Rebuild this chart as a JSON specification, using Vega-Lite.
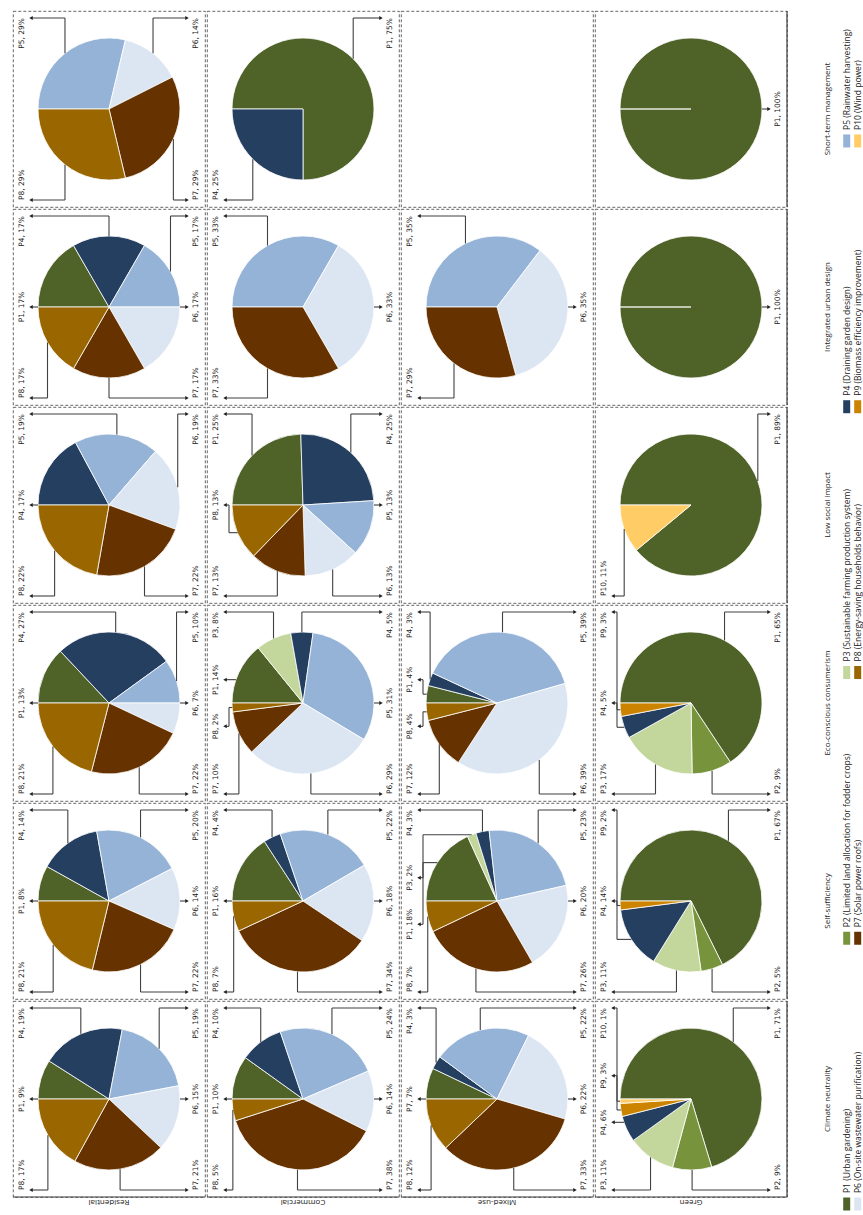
{
  "$schema": "https://vega.github.io/schema/vega-lite/v6.json",
  "padding": {"left": 12, "top": 10, "right": 0, "bottom": 4},
  "background": "white",
  "config": {
    "view": {"stroke": "#404040", "strokeDash": [3, 2], "strokeWidth": 0.8},
    "text": {"font": "DejaVu Sans"}
  },
  "datasets": {
    "shares": [
      {"use": "Residential", "goal": "Climate neutrality", "p": "P1", "pct": 9, "label": "P1, 9%"},
      {"use": "Residential", "goal": "Climate neutrality", "p": "P4", "pct": 19, "label": "P4, 19%"},
      {"use": "Residential", "goal": "Climate neutrality", "p": "P5", "pct": 19, "label": "P5, 19%"},
      {"use": "Residential", "goal": "Climate neutrality", "p": "P6", "pct": 15, "label": "P6, 15%"},
      {"use": "Residential", "goal": "Climate neutrality", "p": "P7", "pct": 21, "label": "P7, 21%"},
      {"use": "Residential", "goal": "Climate neutrality", "p": "P8", "pct": 17, "label": "P8, 17%"},
      {"use": "Residential", "goal": "Self-sufficiency", "p": "P1", "pct": 8, "label": "P1, 8%"},
      {"use": "Residential", "goal": "Self-sufficiency", "p": "P4", "pct": 14, "label": "P4, 14%"},
      {"use": "Residential", "goal": "Self-sufficiency", "p": "P5", "pct": 20, "label": "P5, 20%"},
      {"use": "Residential", "goal": "Self-sufficiency", "p": "P6", "pct": 14, "label": "P6, 14%"},
      {"use": "Residential", "goal": "Self-sufficiency", "p": "P7", "pct": 22, "label": "P7, 22%"},
      {"use": "Residential", "goal": "Self-sufficiency", "p": "P8", "pct": 21, "label": "P8, 21%"},
      {"use": "Residential", "goal": "Eco-conscious consumerism", "p": "P1", "pct": 13, "label": "P1, 13%"},
      {"use": "Residential", "goal": "Eco-conscious consumerism", "p": "P4", "pct": 27, "label": "P4, 27%"},
      {"use": "Residential", "goal": "Eco-conscious consumerism", "p": "P5", "pct": 10, "label": "P5, 10%"},
      {"use": "Residential", "goal": "Eco-conscious consumerism", "p": "P6", "pct": 7, "label": "P6, 7%"},
      {"use": "Residential", "goal": "Eco-conscious consumerism", "p": "P7", "pct": 22, "label": "P7, 22%"},
      {"use": "Residential", "goal": "Eco-conscious consumerism", "p": "P8", "pct": 21, "label": "P8, 21%"},
      {"use": "Residential", "goal": "Low social impact", "p": "P4", "pct": 17, "label": "P4, 17%"},
      {"use": "Residential", "goal": "Low social impact", "p": "P5", "pct": 19, "label": "P5, 19%"},
      {"use": "Residential", "goal": "Low social impact", "p": "P6", "pct": 19, "label": "P6, 19%"},
      {"use": "Residential", "goal": "Low social impact", "p": "P7", "pct": 22, "label": "P7, 22%"},
      {"use": "Residential", "goal": "Low social impact", "p": "P8", "pct": 22, "label": "P8, 22%"},
      {"use": "Residential", "goal": "Integrated urban design", "p": "P1", "pct": 17, "label": "P1, 17%"},
      {"use": "Residential", "goal": "Integrated urban design", "p": "P4", "pct": 17, "label": "P4, 17%"},
      {"use": "Residential", "goal": "Integrated urban design", "p": "P5", "pct": 17, "label": "P5, 17%"},
      {"use": "Residential", "goal": "Integrated urban design", "p": "P6", "pct": 17, "label": "P6, 17%"},
      {"use": "Residential", "goal": "Integrated urban design", "p": "P7", "pct": 17, "label": "P7, 17%"},
      {"use": "Residential", "goal": "Integrated urban design", "p": "P8", "pct": 17, "label": "P8, 17%"},
      {"use": "Residential", "goal": "Short-term management", "p": "P5", "pct": 29, "label": "P5, 29%"},
      {"use": "Residential", "goal": "Short-term management", "p": "P6", "pct": 14, "label": "P6, 14%"},
      {"use": "Residential", "goal": "Short-term management", "p": "P7", "pct": 29, "label": "P7, 29%"},
      {"use": "Residential", "goal": "Short-term management", "p": "P8", "pct": 29, "label": "P8, 29%"},
      {"use": "Commercial", "goal": "Climate neutrality", "p": "P1", "pct": 10, "label": "P1, 10%"},
      {"use": "Commercial", "goal": "Climate neutrality", "p": "P4", "pct": 10, "label": "P4, 10%"},
      {"use": "Commercial", "goal": "Climate neutrality", "p": "P5", "pct": 24, "label": "P5, 24%"},
      {"use": "Commercial", "goal": "Climate neutrality", "p": "P6", "pct": 14, "label": "P6, 14%"},
      {"use": "Commercial", "goal": "Climate neutrality", "p": "P7", "pct": 38, "label": "P7, 38%"},
      {"use": "Commercial", "goal": "Climate neutrality", "p": "P8", "pct": 5, "label": "P8, 5%"},
      {"use": "Commercial", "goal": "Self-sufficiency", "p": "P1", "pct": 16, "label": "P1, 16%"},
      {"use": "Commercial", "goal": "Self-sufficiency", "p": "P4", "pct": 4, "label": "P4, 4%"},
      {"use": "Commercial", "goal": "Self-sufficiency", "p": "P5", "pct": 22, "label": "P5, 22%"},
      {"use": "Commercial", "goal": "Self-sufficiency", "p": "P6", "pct": 18, "label": "P6, 18%"},
      {"use": "Commercial", "goal": "Self-sufficiency", "p": "P7", "pct": 34, "label": "P7, 34%"},
      {"use": "Commercial", "goal": "Self-sufficiency", "p": "P8", "pct": 7, "label": "P8, 7%"},
      {"use": "Commercial", "goal": "Eco-conscious consumerism", "p": "P1", "pct": 14, "label": "P1, 14%"},
      {"use": "Commercial", "goal": "Eco-conscious consumerism", "p": "P3", "pct": 8, "label": "P3, 8%"},
      {"use": "Commercial", "goal": "Eco-conscious consumerism", "p": "P4", "pct": 5, "label": "P4, 5%"},
      {"use": "Commercial", "goal": "Eco-conscious consumerism", "p": "P5", "pct": 31, "label": "P5, 31%"},
      {"use": "Commercial", "goal": "Eco-conscious consumerism", "p": "P6", "pct": 29, "label": "P6, 29%"},
      {"use": "Commercial", "goal": "Eco-conscious consumerism", "p": "P7", "pct": 10, "label": "P7, 10%"},
      {"use": "Commercial", "goal": "Eco-conscious consumerism", "p": "P8", "pct": 2, "label": "P8, 2%"},
      {"use": "Commercial", "goal": "Low social impact", "p": "P1", "pct": 25, "label": "P1, 25%"},
      {"use": "Commercial", "goal": "Low social impact", "p": "P4", "pct": 25, "label": "P4, 25%"},
      {"use": "Commercial", "goal": "Low social impact", "p": "P5", "pct": 13, "label": "P5, 13%"},
      {"use": "Commercial", "goal": "Low social impact", "p": "P6", "pct": 13, "label": "P6, 13%"},
      {"use": "Commercial", "goal": "Low social impact", "p": "P7", "pct": 13, "label": "P7, 13%"},
      {"use": "Commercial", "goal": "Low social impact", "p": "P8", "pct": 13, "label": "P8, 13%"},
      {"use": "Commercial", "goal": "Integrated urban design", "p": "P5", "pct": 33, "label": "P5, 33%"},
      {"use": "Commercial", "goal": "Integrated urban design", "p": "P6", "pct": 33, "label": "P6, 33%"},
      {"use": "Commercial", "goal": "Integrated urban design", "p": "P7", "pct": 33, "label": "P7, 33%"},
      {"use": "Commercial", "goal": "Short-term management", "p": "P1", "pct": 75, "label": "P1, 75%"},
      {"use": "Commercial", "goal": "Short-term management", "p": "P4", "pct": 25, "label": "P4, 25%"},
      {"use": "Mixed-use", "goal": "Climate neutrality", "p": "P1", "pct": 7, "label": "P7, 7%"},
      {"use": "Mixed-use", "goal": "Climate neutrality", "p": "P4", "pct": 3, "label": "P4, 3%"},
      {"use": "Mixed-use", "goal": "Climate neutrality", "p": "P5", "pct": 22, "label": "P5, 22%"},
      {"use": "Mixed-use", "goal": "Climate neutrality", "p": "P6", "pct": 22, "label": "P6, 22%"},
      {"use": "Mixed-use", "goal": "Climate neutrality", "p": "P7", "pct": 33, "label": "P7, 33%"},
      {"use": "Mixed-use", "goal": "Climate neutrality", "p": "P8", "pct": 12, "label": "P8, 12%"},
      {"use": "Mixed-use", "goal": "Self-sufficiency", "p": "P1", "pct": 18, "label": "P1, 18%"},
      {"use": "Mixed-use", "goal": "Self-sufficiency", "p": "P3", "pct": 2, "label": "P3, 2%"},
      {"use": "Mixed-use", "goal": "Self-sufficiency", "p": "P4", "pct": 3, "label": "P4, 3%"},
      {"use": "Mixed-use", "goal": "Self-sufficiency", "p": "P5", "pct": 23, "label": "P5, 23%"},
      {"use": "Mixed-use", "goal": "Self-sufficiency", "p": "P6", "pct": 20, "label": "P6, 20%"},
      {"use": "Mixed-use", "goal": "Self-sufficiency", "p": "P7", "pct": 26, "label": "P7, 26%"},
      {"use": "Mixed-use", "goal": "Self-sufficiency", "p": "P8", "pct": 7, "label": "P8, 7%"},
      {"use": "Mixed-use", "goal": "Eco-conscious consumerism", "p": "P1", "pct": 4, "label": "P1, 4%"},
      {"use": "Mixed-use", "goal": "Eco-conscious consumerism", "p": "P4", "pct": 3, "label": "P4, 3%"},
      {"use": "Mixed-use", "goal": "Eco-conscious consumerism", "p": "P5", "pct": 39, "label": "P5, 39%"},
      {"use": "Mixed-use", "goal": "Eco-conscious consumerism", "p": "P6", "pct": 39, "label": "P6, 39%"},
      {"use": "Mixed-use", "goal": "Eco-conscious consumerism", "p": "P7", "pct": 12, "label": "P7, 12%"},
      {"use": "Mixed-use", "goal": "Eco-conscious consumerism", "p": "P8", "pct": 4, "label": "P8, 4%"},
      {"use": "Mixed-use", "goal": "Low social impact", "p": null, "pct": null, "label": null},
      {"use": "Mixed-use", "goal": "Integrated urban design", "p": "P5", "pct": 35, "label": "P5, 35%"},
      {"use": "Mixed-use", "goal": "Integrated urban design", "p": "P6", "pct": 35, "label": "P6, 35%"},
      {"use": "Mixed-use", "goal": "Integrated urban design", "p": "P7", "pct": 29, "label": "P7, 29%"},
      {"use": "Mixed-use", "goal": "Short-term management", "p": null, "pct": null, "label": null},
      {"use": "Green", "goal": "Climate neutrality", "p": "P1", "pct": 71, "label": "P1, 71%"},
      {"use": "Green", "goal": "Climate neutrality", "p": "P2", "pct": 9, "label": "P2, 9%"},
      {"use": "Green", "goal": "Climate neutrality", "p": "P3", "pct": 11, "label": "P3, 11%"},
      {"use": "Green", "goal": "Climate neutrality", "p": "P4", "pct": 6, "label": "P4, 6%"},
      {"use": "Green", "goal": "Climate neutrality", "p": "P9", "pct": 3, "label": "P9, 3%"},
      {"use": "Green", "goal": "Climate neutrality", "p": "P10", "pct": 1, "label": "P10, 1%"},
      {"use": "Green", "goal": "Self-sufficiency", "p": "P1", "pct": 67, "label": "P1, 67%"},
      {"use": "Green", "goal": "Self-sufficiency", "p": "P2", "pct": 5, "label": "P2, 5%"},
      {"use": "Green", "goal": "Self-sufficiency", "p": "P3", "pct": 11, "label": "P3, 11%"},
      {"use": "Green", "goal": "Self-sufficiency", "p": "P4", "pct": 14, "label": "P4, 14%"},
      {"use": "Green", "goal": "Self-sufficiency", "p": "P9", "pct": 2, "label": "P9, 2%"},
      {"use": "Green", "goal": "Eco-conscious consumerism", "p": "P1", "pct": 65, "label": "P1, 65%"},
      {"use": "Green", "goal": "Eco-conscious consumerism", "p": "P2", "pct": 9, "label": "P2, 9%"},
      {"use": "Green", "goal": "Eco-conscious consumerism", "p": "P3", "pct": 17, "label": "P3, 17%"},
      {"use": "Green", "goal": "Eco-conscious consumerism", "p": "P4", "pct": 5, "label": "P4, 5%"},
      {"use": "Green", "goal": "Eco-conscious consumerism", "p": "P9", "pct": 3, "label": "P9, 3%"},
      {"use": "Green", "goal": "Low social impact", "p": "P1", "pct": 89, "label": "P1, 89%"},
      {"use": "Green", "goal": "Low social impact", "p": "P10", "pct": 11, "label": "P10, 11%"},
      {"use": "Green", "goal": "Integrated urban design", "p": "P1", "pct": 100, "label": "P1, 100%"},
      {"use": "Green", "goal": "Short-term management", "p": "P1", "pct": 100, "label": "P1, 100%"}
    ],
    "legend": [
      {"p": "P1", "name": "P1 (Urban gardening)"},
      {"p": "P2", "name": "P2 (Limited land allocation for fodder crops)"},
      {"p": "P3", "name": "P3 (Sustainable farming production system)"},
      {"p": "P4", "name": "P4 (Draining garden design)"},
      {"p": "P5", "name": "P5 (Rainwater harvesting)"},
      {"p": "P6", "name": "P6 (On-site wastewater purification)"},
      {"p": "P7", "name": "P7 (Solar power roofs)"},
      {"p": "P8", "name": "P8 (Energy-saving households behavior)"},
      {"p": "P9", "name": "P9 (Biomass efficiency improvement)"},
      {"p": "P10", "name": "P10 (Wind power)"}
    ]
  },
  "spacing": 7,
  "hconcat": [
    {
      "data": {"name": "shares"},
      "transform": [
        {"calculate": "toNumber(substring(datum.p, 1))", "as": "pn"},
        {"joinaggregate": [{"op": "sum", "field": "pct", "as": "tot"}, {"op": "count", "as": "nn"}], "groupby": ["use", "goal"]},
        {"window": [{"op": "sum", "field": "pct", "as": "cum"}, {"op": "row_number", "as": "rn"}], "sort": [{"field": "pn"}], "groupby": ["use", "goal"], "frame": [null, 0]},
        {"calculate": "(datum.cum - datum.pct) / datum.tot", "as": "f0"},
        {"calculate": "datum.cum / datum.tot", "as": "f1"},
        {"calculate": "PI * (datum.f0 + datum.f1)", "as": "phi"},
        {"calculate": "cos(datum.phi - PI / 30)", "as": "s"},
        {"window": [{"op": "row_number", "as": "srank"}], "sort": [{"field": "s", "order": "descending"}], "groupby": ["use", "goal"]},
        {"calculate": "(datum.s > 0.4 || (datum.srank <= ceil(datum.nn / 2) && datum.s >= -0.4)) ? -1 : 1", "as": "side"},
        {"calculate": "sin(datum.phi)", "as": "sn"},
        {"window": [{"op": "row_number", "as": "k"}], "sort": [{"field": "sn"}], "groupby": ["use", "goal", "side"]},
        {"joinaggregate": [{"op": "count", "as": "ns"}], "groupby": ["use", "goal", "side"]},
        {"calculate": "datum.ns == 1 ? (abs(datum.sn) < 0.25 ? 0 : (datum.sn > 0 ? 1 : -1)) : -1 + 2 * (datum.k - 1) / (datum.ns - 1)", "as": "pos"},
        {"calculate": "datum.pos == 1 ? 91 : (datum.pos == -1 ? -91 : datum.pos * 70)", "as": "ly"},
        {"calculate": "datum.side * 87", "as": "lx"},
        {"calculate": "datum.side * 78", "as": "ax"},
        {"calculate": "datum.side * sqrt(max(0, 71 * 71 - datum.ly * datum.ly))", "as": "ex"},
        {"calculate": "atan2(datum.ly, -datum.ex) < 0 ? atan2(datum.ly, -datum.ex) + 2 * PI : atan2(datum.ly, -datum.ex)", "as": "phiE"},
        {"calculate": "abs(datum.pos) < 1 && abs(datum.ly) < 71 && datum.phiE >= 2 * PI * datum.f0 - 0.001 && datum.phiE <= 2 * PI * datum.f1 + 0.001", "as": "direct"},
        {"calculate": "datum.direct ? datum.ex : -cos(datum.phi) * 71", "as": "Ax"},
        {"calculate": "datum.direct ? datum.ly : datum.sn * 71", "as": "Ay"},
        {"calculate": "datum.direct ? datum.ex : ((abs(datum.pos) == 1 && datum.Ay * datum.pos >= 0) ? datum.Ax : datum.side * 74)", "as": "bx"}
      ],
      "spacing": {"row": 0, "column": 0},
      "facet": {
        "row": {"field": "goal", "type": "nominal", "title": null,
          "sort": ["Short-term management", "Integrated urban design", "Low social impact", "Eco-conscious consumerism", "Self-sufficiency", "Climate neutrality"],
          "header": {"labelOrient": "right", "labelAngle": -90, "labelPadding": 32, "labelFont": "Open Sans", "labelFontSize": 8, "labelColor": "#222", "labelAlign": "center", "labelBaseline": "middle"}},
        "column": {"field": "use", "type": "nominal", "title": null,
          "sort": ["Residential", "Commercial", "Mixed-use", "Green"],
          "header": {"labelOrient": "bottom", "labelAngle": 180, "labelPadding": 4, "labelFont": "Open Sans", "labelFontSize": 8, "labelColor": "#222", "labelAlign": "center", "labelBaseline": "middle"}}
      },
      "spec": {
        "width": 192,
        "height": 196,
        "layer": [
          {
            "transform": [{"filter": "datum.pct > 0"}],
            "mark": {"type": "arc", "outerRadius": 71, "stroke": "#ffffff", "strokeWidth": 0.8},
            "encoding": {
              "theta": {"field": "f0", "type": "quantitative", "stack": null, "scale": {"type": "linear", "domain": [0, 1], "range": [-1.5707963, 4.712389]}},
              "theta2": {"field": "f1"},
              "color": {"field": "p", "type": "nominal",
                "scale": {"domain": ["P1", "P2", "P3", "P4", "P5", "P6", "P7", "P8", "P9", "P10"],
                  "range": ["#4F6228", "#77933C", "#C3D69B", "#243F60", "#95B3D7", "#DCE6F2", "#663300", "#996600", "#CC8400", "#FFCC66"]},
                "legend": null},
              "order": {"field": "pn", "type": "quantitative"}
            }
          },
          {
            "transform": [{"filter": "datum.pct > 0"}],
            "mark": {"type": "rule", "color": "#404040", "strokeWidth": 1.1},
            "encoding": {
              "x": {"field": "Ax", "type": "quantitative", "scale": {"domain": [-96, 96], "nice": false, "zero": false}, "axis": null},
              "x2": {"field": "bx"},
              "y": {"field": "Ay", "type": "quantitative", "scale": {"domain": [-98, 98], "nice": false, "zero": false}, "axis": null}
            }
          },
          {
            "transform": [{"filter": "datum.pct > 0"}],
            "mark": {"type": "rule", "color": "#404040", "strokeWidth": 1.1},
            "encoding": {
              "x": {"field": "bx", "type": "quantitative", "scale": {"domain": [-96, 96], "nice": false, "zero": false}, "axis": null},
              "y": {"field": "Ay", "type": "quantitative", "scale": {"domain": [-98, 98], "nice": false, "zero": false}, "axis": null},
              "y2": {"field": "ly"}
            }
          },
          {
            "transform": [{"filter": "datum.pct > 0"}],
            "mark": {"type": "rule", "color": "#404040", "strokeWidth": 1.1},
            "encoding": {
              "x": {"field": "bx", "type": "quantitative", "scale": {"domain": [-96, 96], "nice": false, "zero": false}, "axis": null},
              "x2": {"field": "ax"},
              "y": {"field": "ly", "type": "quantitative", "scale": {"domain": [-98, 98], "nice": false, "zero": false}, "axis": null}
            }
          },
          {
            "transform": [{"filter": "datum.pct > 0 && datum.side == -1"}],
            "mark": {"type": "point", "shape": "triangle-left", "filled": true, "color": "#202020", "size": 16, "opacity": 1},
            "encoding": {
              "x": {"field": "ax", "type": "quantitative", "scale": {"domain": [-96, 96], "nice": false, "zero": false}, "axis": null},
              "y": {"field": "ly", "type": "quantitative", "scale": {"domain": [-98, 98], "nice": false, "zero": false}, "axis": null}
            }
          },
          {
            "transform": [{"filter": "datum.pct > 0 && datum.side == 1"}],
            "mark": {"type": "point", "shape": "triangle-right", "filled": true, "color": "#202020", "size": 16, "opacity": 1},
            "encoding": {
              "x": {"field": "ax", "type": "quantitative", "scale": {"domain": [-96, 96], "nice": false, "zero": false}, "axis": null},
              "y": {"field": "ly", "type": "quantitative", "scale": {"domain": [-98, 98], "nice": false, "zero": false}, "axis": null}
            }
          },
          {
            "transform": [{"filter": "datum.pct > 0 && datum.pos == 1"}],
            "mark": {"type": "text", "angle": 270, "align": "right", "baseline": "middle", "font": "DejaVu Sans", "fontSize": 7.5, "color": "#222"},
            "encoding": {
              "x": {"field": "lx", "type": "quantitative", "scale": {"domain": [-96, 96], "nice": false, "zero": false}, "axis": null},
              "y": {"field": "ly", "type": "quantitative", "scale": {"domain": [-98, 98], "nice": false, "zero": false}, "axis": null},
              "text": {"field": "label"}
            }
          },
          {
            "transform": [{"filter": "datum.pct > 0 && datum.pos == -1"}],
            "mark": {"type": "text", "angle": 270, "align": "left", "baseline": "middle", "font": "DejaVu Sans", "fontSize": 7.5, "color": "#222"},
            "encoding": {
              "x": {"field": "lx", "type": "quantitative", "scale": {"domain": [-96, 96], "nice": false, "zero": false}, "axis": null},
              "y": {"field": "ly", "type": "quantitative", "scale": {"domain": [-98, 98], "nice": false, "zero": false}, "axis": null},
              "text": {"field": "label"}
            }
          },
          {
            "transform": [{"filter": "datum.pct > 0 && abs(datum.pos) < 1"}],
            "mark": {"type": "text", "angle": 270, "align": "center", "baseline": "middle", "font": "DejaVu Sans", "fontSize": 7.5, "color": "#222"},
            "encoding": {
              "x": {"field": "lx", "type": "quantitative", "scale": {"domain": [-96, 96], "nice": false, "zero": false}, "axis": null},
              "y": {"field": "ly", "type": "quantitative", "scale": {"domain": [-98, 98], "nice": false, "zero": false}, "axis": null},
              "text": {"field": "label"}
            }
          },
          {
            "transform": [{"filter": "datum.rn == 1 && datum.goal == 'Climate neutrality'"}],
            "mark": {"type": "rule", "color": "#404040", "strokeWidth": 1.2},
            "encoding": {
              "x": {"datum": -96, "type": "quantitative", "scale": {"domain": [-96, 96], "nice": false, "zero": false}, "axis": null},
              "x2": {"datum": 96},
              "y": {"datum": -98, "type": "quantitative", "scale": {"domain": [-98, 98], "nice": false, "zero": false}, "axis": null}
            }
          },
          {
            "transform": [{"filter": "datum.rn == 1 && datum.use == 'Green'"}],
            "mark": {"type": "rule", "color": "#404040", "strokeWidth": 1.2},
            "encoding": {
              "x": {"datum": 96, "type": "quantitative", "scale": {"domain": [-96, 96], "nice": false, "zero": false}, "axis": null},
              "y": {"datum": -98, "type": "quantitative", "scale": {"domain": [-98, 98], "nice": false, "zero": false}, "axis": null},
              "y2": {"datum": 98}
            }
          }
        ]
      }
    },
    {
      "data": {"name": "legend"},
      "width": 22,
      "height": 1195,
      "view": {"stroke": null},
      "transform": [
        {"calculate": "toNumber(substring(datum.p, 1))", "as": "pn"},
        {"calculate": "datum.pn > 5 ? 1 : 0", "as": "c"},
        {"calculate": "(datum.pn - 1) % 5", "as": "r"}
      ],
      "layer": [
        {
          "mark": {"type": "rect", "width": 7, "height": 13},
          "encoding": {
            "x": {"field": "c", "type": "quantitative", "scale": {"domain": [-0.7, 1.3], "nice": false, "zero": false}, "axis": null},
            "y": {"field": "r", "type": "quantitative", "scale": {"domain": [-0.0075, 4.489], "nice": false, "zero": false}, "axis": null},
            "color": {"field": "p", "type": "nominal",
              "scale": {"domain": ["P1", "P2", "P3", "P4", "P5", "P6", "P7", "P8", "P9", "P10"],
                "range": ["#4F6228", "#77933C", "#C3D69B", "#243F60", "#95B3D7", "#DCE6F2", "#663300", "#996600", "#CC8400", "#FFCC66"]},
              "legend": null}
          }
        },
        {
          "mark": {"type": "text", "angle": 270, "align": "left", "baseline": "middle", "dx": 11, "font": "Open Sans", "fontSize": 8.5, "color": "#222"},
          "encoding": {
            "x": {"field": "c", "type": "quantitative", "scale": {"domain": [-0.7, 1.3], "nice": false, "zero": false}, "axis": null},
            "y": {"field": "r", "type": "quantitative", "scale": {"domain": [-0.0075, 4.489], "nice": false, "zero": false}, "axis": null},
            "text": {"field": "name"}
          }
        }
      ]
    }
  ]
}
